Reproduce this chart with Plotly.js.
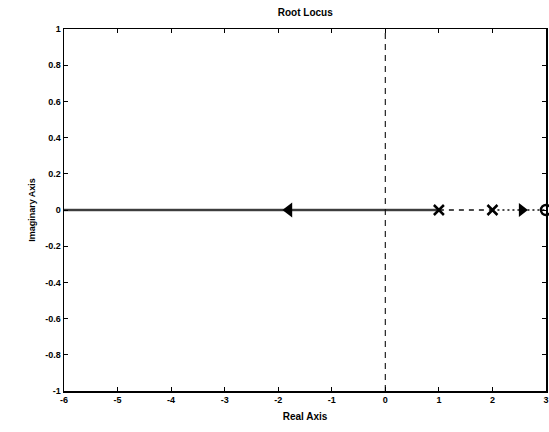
<!DOCTYPE html>
<html>
<head>
<meta charset="utf-8">
<script src="https://cdn.plot.ly/plotly-3.0.1.min.js"></script>
<style>html,body{margin:0;padding:0;background:#fff;}#chart{width:549px;height:432px;}</style>
</head>
<body>
<div id="chart"></div>
<script>
// Data
const locusSolidX = [-6, 1];
const locusSolidY = [0, 0];
const locusDashX = [1, 2];
const locusDashY = [0, 0];
const locusDotX = [2, 3];
const locusDotY = [0, 0];
const polesX = [1, 2];
const polesY = [0, 0];
const zerosX = [3];
const zerosY = [0];
const arrowLeftX = [-1.8];
const arrowLeftY = [0];
const arrowRightX = [2.55];
const arrowRightY = [0];
const vLineX = [0, 0];
const vLineY = [-1, 1];
const xTicks = [-6, -5, -4, -3, -2, -1, 0, 1, 2, 3];
const xTickText = ['-6', '-5', '-4', '-3', '-2', '-1', '0', '1', '2', '3'];
const yTicks = [-1, -0.8, -0.6, -0.4, -0.2, 0, 0.2, 0.4, 0.6, 0.8, 1];
const yTickText = ['-1', '-0.8', '-0.6', '-0.4', '-0.2', '0', '0.2', '0.4', '0.6', '0.8', '1'];

const bold = arr => arr.map(s => '<b>' + s + '</b>');

const traces = [
  {x: [-6, 1], y: [0, 0], mode: 'lines', line: {color: '#c4c4c4', width: 3.5}, hoverinfo: 'skip'},
  {x: vLineX, y: vLineY, mode: 'lines', line: {color: '#222', width: 1.2, dash: '6px,5px'}},
  {x: locusSolidX, y: locusSolidY, mode: 'lines', line: {color: '#111', width: 1.6}},
  {x: locusDashX, y: locusDashY, mode: 'lines', line: {color: '#111', width: 1.6, dash: '5px,5px'}},
  {x: locusDotX, y: locusDotY, mode: 'lines', line: {color: '#111', width: 1.6, dash: '2px,3px'}},
  {x: arrowLeftX, y: arrowLeftY, mode: 'markers', marker: {symbol: 'triangle-left', size: 13, color: '#000'}},
  {x: arrowRightX, y: arrowRightY, mode: 'markers', marker: {symbol: 'triangle-right', size: 12, color: '#000'}},
  {x: polesX, y: polesY, mode: 'markers', marker: {symbol: 'x-thin', size: 10, line: {color: '#000', width: 2.5}}},
  {x: zerosX, y: zerosY, mode: 'markers', marker: {symbol: 'circle-open', size: 10, color: '#000', line: {width: 2.5}}, cliponaxis: false}
];

const axisCommon = {
  showgrid: false, zeroline: false, showline: true, linecolor: '#000', linewidth: 1.5,
  mirror: 'ticks', ticks: 'inside', ticklen: 4, tickcolor: '#000',
  tickfont: {family: 'Liberation Sans, Arial, sans-serif', size: 9, color: '#000'}
};

const layout = {
  width: 549, height: 432,
  margin: {l: 64, r: 3, t: 29, b: 41},
  paper_bgcolor: '#fff', plot_bgcolor: '#fff',
  showlegend: false,
  title: {text: '<b>Root Locus</b>', x: 0.556, xanchor: 'center', y: 0.972, yanchor: 'middle',
          font: {family: 'Liberation Sans, Arial, sans-serif', size: 10, color: '#000'}},
  xaxis: Object.assign({}, axisCommon, {
    range: [-6, 3], tickvals: xTicks, ticktext: bold(xTickText),
    title: {text: '<b>Real Axis</b>', standoff: 8, font: {family: 'Liberation Sans, Arial, sans-serif', size: 10, color: '#000'}}
  }),
  yaxis: Object.assign({}, axisCommon, {
    range: [-1, 1], tickvals: yTicks, ticktext: bold(yTickText),
    title: {text: '<b>Imaginary Axis</b>', standoff: 8, font: {family: 'Liberation Sans, Arial, sans-serif', size: 9, color: '#000'}}
  })
};

Plotly.newPlot('chart', traces, layout, {displayModeBar: false, staticPlot: true});
</script>
</body>
</html>
